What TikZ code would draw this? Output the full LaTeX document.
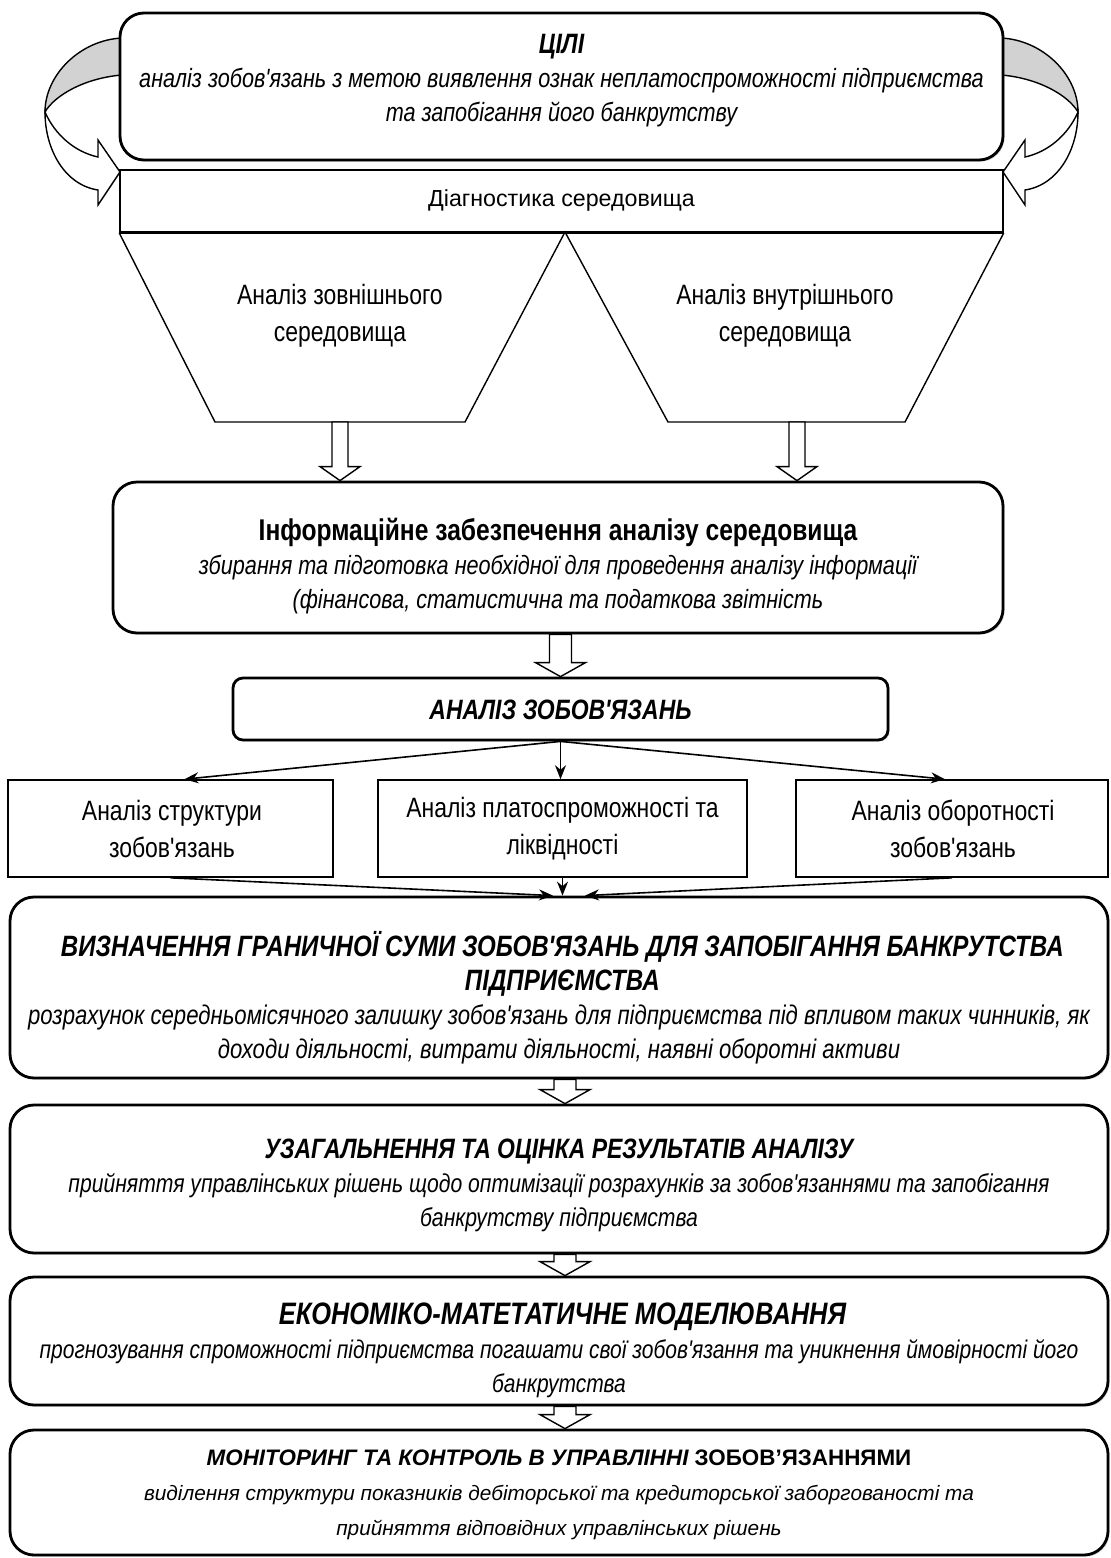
\documentclass[tikz,border=0pt]{standalone}
\usepackage{fontspec}
\setmainfont{Liberation Sans}
\newfontfamily\narrowf[FakeStretch=0.82]{Liberation Sans}
\usetikzlibrary{arrows.meta,calc,shadows}

\newcommand\ttlf[1][14]{\fontsize{#1}{17.5}\selectfont\narrowf\bfseries\itshape}
\newcommand\subf[1][13.2]{\fontsize{#1}{17}\selectfont\narrowf\itshape}
\newcommand\regf[1][14]{\fontsize{#1}{18.5}\selectfont\narrowf}
% hollow block arrow: #1 half shaft width, #2 half head width, #3 start, #4 end
\newcommand\hollowarr[4]{\filldraw[harr] let \p1=(#3), \p2=(#4) in
  (\x1-#1,\y1) -- (\x1-#1,\y2+7pt) -- (\x1-#2,\y2+7pt) -- (\x1,\y2)
  -- (\x1+#2,\y2+7pt) -- (\x1+#1,\y2+7pt) -- (\x1+#1,\y1) -- cycle;}

\begin{document}
\begin{tikzpicture}[x=0.5pt,y=-0.5pt,
  rbox/.style={draw, line width=1.4pt, rounded corners=12pt, fill=white,
    drop shadow={shadow xshift=0.8pt,shadow yshift=-0.8pt,opacity=0.35}, inner sep=0pt},
  sbox/.style={draw, line width=0.8pt, fill=white, inner sep=0pt,
    drop shadow={shadow xshift=0.6pt,shadow yshift=-0.6pt,opacity=0.3}},
  txt/.style={align=center, inner sep=0pt},
  conn/.style={line width=0.8pt, -{Stealth[length=7pt,width=5.5pt]}},
  harr/.style={draw, fill=white, line width=0.7pt},
  curv/.style={draw, line width=0.7pt},
  thinl/.style={line width=0.7pt}]
\useasboundingbox (0,0) rectangle (1110,1558);

% curved arrows (behind the goal box)
\filldraw[curv, fill=gray!35] (122,38) .. controls (80,40) and (45,75) .. (45,112)
  .. controls (55,95) and (85,78) .. (122,75) -- cycle;
\filldraw[curv, fill=white] (45,112) .. controls (45,150) and (65,185) .. (98,190)
  -- (98,205) -- (120,172) -- (98,140) -- (98,157)
  .. controls (75,152) and (55,135) .. (45,112) -- cycle;
\filldraw[curv, fill=gray!35] (1001,38) .. controls (1043,40) and (1078,75) .. (1078,112)
  .. controls (1068,95) and (1038,78) .. (1001,75) -- cycle;
\filldraw[curv, fill=white] (1078,112) .. controls (1078,150) and (1058,185) .. (1025,190)
  -- (1025,205) -- (1003,172) -- (1025,140) -- (1025,157)
  .. controls (1048,152) and (1068,135) .. (1078,112) -- cycle;

% goal
\node[rbox, minimum width=441.5pt, minimum height=73.5pt] (goal) at (561.5,86.5) {};
\node[txt, font=\subf] (goalT) at (561.5,81) {\ttlf ЦІЛІ\\ аналіз зобов'язань з метою виявлення ознак неплатоспроможності підприємства\\ та запобігання його банкрутству};

% diagnostics
\node[draw, line width=0.8pt, fill=white, inner sep=0pt, minimum width=441.5pt, minimum height=31pt] (diag) at (561.5,201) {};
\draw[line width=1.4pt] (diag.south west) -- (diag.south east);
\node[txt, font={\fontsize{11.6}{14}\selectfont}] (diagT) at (561.5,200) {Діагностика середовища};

% trapezoids
\coordinate (apex) at (565,232);
\coordinate (tlB) at (340,422);
\coordinate (trB) at (797,422);
\draw[thinl] (diag.south west) -- (215,422) -- (465,422) -- (apex) -- (668,422) -- (905,422) -- (diag.south east);
\node[txt, font=\regf] (trapLT) at (340,316) {Аналіз зовнішнього\\середовища};
\node[txt, font=\regf] (trapRT) at (785,316) {Аналіз внутрішнього\\середовища};

% info
\node[rbox, minimum width=445pt, minimum height=75.5pt] (info) at (558,557.5) {};
\node[txt, font=\subf] (infoT) at (558,566) {\fontsize{15}{17}\selectfont\narrowf\bfseries\upshape Інформаційне забезпечення аналізу середовища\\ збирання та підготовка необхідної для проведення аналізу інформації\\ (фінансова, статистична та податкова звітність};
\hollowarr{4pt}{10pt}{tlB}{tlB |- info.north}
\hollowarr{4pt}{10pt}{trB}{trB |- info.north}

% analysis
\node[rbox, rounded corners=5pt, minimum width=327.5pt, minimum height=31pt] (anal) at (560.5,709) {};
\node[txt, font=\ttlf] (analT) at (560.5,710) {АНАЛІЗ ЗОБОВ'ЯЗАНЬ};
\hollowarr{5.5pt}{12.5pt}{anal.north |- info.south}{anal.north}

% three boxes
\node[sbox, minimum width=162.5pt, minimum height=48.5pt] (b1) at (170.5,828.5) {};
\node[sbox, minimum width=184.5pt, minimum height=48.5pt] (b2) at (562.5,828.5) {};
\node[sbox, minimum width=156pt, minimum height=48.5pt] (b3) at (952,828.5) {};
\node[txt, font=\regf] (b1T) at (172,829) {Аналіз структури\\зобов'язань};
\node[txt, font=\regf] (b2T) at (562.5,829) {Аналіз платоспроможності та\\ліквідності};
\node[txt, font=\regf] (b3T) at (953,829) {Аналіз оборотності\\зобов'язань};
\draw[conn] (anal.south) -- ([xshift=7pt]b1.north);
\draw[conn] (anal.south) -- (anal.south |- b2.north);
\draw[conn] (anal.south) -- ([xshift=-3.5pt]b3.north);

% definition
\node[rbox, minimum width=549pt, minimum height=90.5pt] (def) at (559,987.5) {};
\node[txt, font={\subf[13.5]}] (defT) at (559,997.5) {\ttlf[14.7] ВИЗНАЧЕННЯ ГРАНИЧНОЇ СУМИ ЗОБОВ'ЯЗАНЬ ДЛЯ ЗАПОБІГАННЯ БАНКРУТСТВА\\ \ttlf[14.7] ПІДПРИЄМСТВА\\ розрахунок середньомісячного залишку зобов'язань для підприємства під впливом таких чинників, як\\доходи діяльності, витрати діяльності, наявні оборотні активи};
\draw[conn] (b1.south) -- ([xshift=-3pt]def.north);
\draw[conn] (b2.south) -- (b2.south |- def.north);
\draw[conn] (b3.south) -- ([xshift=13pt]def.north);

% generalisation
\node[rbox, minimum width=549pt, minimum height=74pt] (gen) at (559,1179) {};
\node[txt, font={\subf[12.9]}] (genT) at (559,1185) {\ttlf УЗАГАЛЬНЕННЯ ТА ОЦІНКА РЕЗУЛЬТАТІВ АНАЛІЗУ\\ прийняття управлінських рішень щодо оптимізації розрахунків за зобов'язаннями та запобігання\\банкрутству підприємства};
\hollowarr{5.5pt}{12.5pt}{[xshift=3pt]def.south}{[xshift=3pt]gen.north}

% modelling
\node[rbox, minimum width=549pt, minimum height=64pt] (mod) at (559,1341) {};
\node[txt, font={\subf[12.8]}] (modT) at (559,1350) {\ttlf[15.5] ЕКОНОМІКО-МАТЕТАТИЧНЕ МОДЕЛЮВАННЯ\\ прогнозування спроможності підприємства погашати свої зобов'язання та уникнення ймовірності його\\банкрутства};
\hollowarr{5.5pt}{12.5pt}{[xshift=3pt]gen.south}{[xshift=3pt]mod.north}

% monitoring
\node[rbox, minimum width=549pt, minimum height=62.5pt] (mon) at (559,1492.5) {};
\node[txt, font={\fontsize{10.4}{17.5}\selectfont\itshape}] (monT) at (559,1495) {\fontsize{11.2}{17.5}\selectfont\bfseries\itshape МОНІТОРИНГ ТА КОНТРОЛЬ В УПРАВЛІННІ \upshape ЗОБОВ'ЯЗАННЯМИ\\ виділення структури показників дебіторської та кредиторської заборгованості та\\прийняття відповідних управлінських рішень};
\hollowarr{5.5pt}{12.5pt}{[xshift=3pt]mod.south}{[xshift=3pt]mon.north}
\end{tikzpicture}
\end{document}
